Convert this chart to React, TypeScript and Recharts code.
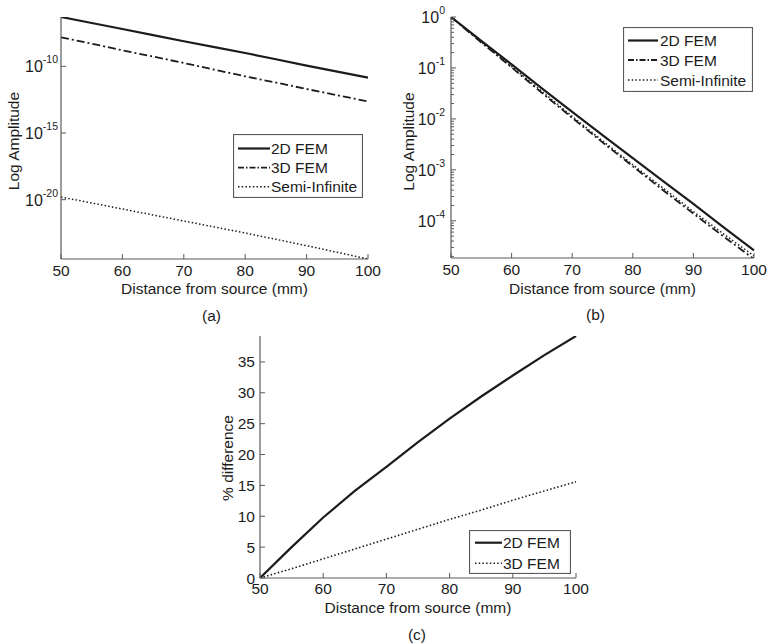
import React from 'react';
import { LineChart, Line, XAxis, YAxis, Legend } from 'recharts';

const FONT = '"Liberation Sans", Arial, Helvetica, sans-serif';
const INK = '#1c1c1c';
const AXIS = '#5a5a5a';

// distance from source (mm)
const distance = [50, 55, 60, 65, 70, 75, 80, 85, 90, 95, 100];
const distanceTicks = [50, 60, 70, 80, 90, 100];

// (a) amplitude, read as log10 exponents
const aFem2D = [-6.3, -6.75, -7.2, -7.66, -8.12, -8.56, -9.0, -9.47, -9.95, -10.4, -10.85];
const aFem3D = [-7.83, -8.3, -8.8, -9.27, -9.75, -10.25, -10.75, -11.22, -11.7, -12.17, -12.63];
const aSemi = [-19.8, -20.25, -20.7, -21.15, -21.6, -22.05, -22.5, -22.97, -23.45, -23.95, -24.45];
const aTicks = [1e-20, 1e-15, 1e-10];

// (b) amplitude, read as log10 exponents
const bFem2D = [0, -0.47, -0.93, -1.4, -1.86, -2.32, -2.77, -3.22, -3.67, -4.13, -4.58];
const bFem3D = [0, -0.5, -0.99, -1.49, -1.98, -2.46, -2.93, -3.4, -3.86, -4.31, -4.75];
const bSemi = [0, -0.49, -0.97, -1.46, -1.95, -2.43, -2.9, -3.36, -3.82, -4.26, -4.69];
const bMajor = [1e-4, 1e-3, 1e-2, 1e-1, 1];
const bMinorSteps = [2, 3, 4, 5, 6, 7, 8, 9];

// (c) % difference
const cFem2D = [0, 5.0, 9.8, 14.1, 18.0, 22.0, 25.8, 29.4, 32.8, 36.1, 39.2];
const cFem3D = [0, 1.5, 3.1, 4.7, 6.3, 7.9, 9.5, 11.0, 12.6, 14.1, 15.6];
const cTicks = [0, 5, 10, 15, 20, 25, 30, 35];

const rowsA = distance.map((d, i) => ({ d, fem2d: 10 ** aFem2D[i], fem3d: 10 ** aFem3D[i], semi: 10 ** aSemi[i] }));
const rowsB = distance.map((d, i) => ({ d, fem2d: 10 ** bFem2D[i], fem3d: 10 ** bFem3D[i], semi: 10 ** bSemi[i] }));
const rowsC = distance.map((d, i) => ({ d, fem2d: cFem2D[i], fem3d: cFem3D[i] }));

const bTicks = [
  ...bMajor,
  ...bMajor.slice(0, -1).flatMap((m) => bMinorSteps.map((s) => m * s)),
  ...bMinorSteps.map((s) => 1e-5 * s).filter((v) => v > 1.86e-5),
].sort((p, q) => p - q);

type Look = { name: string; dash?: string; legendDash?: string; width: number };

const SOLID: Look = { name: '2D FEM', width: 2.2 };
const DASHDOT: Look = { name: '3D FEM', dash: '8 3 2 3', legendDash: '6 2 1.5 2', width: 1.8 };
const DOTTED: Look = { name: 'Semi-Infinite', dash: '1.5 2.2', width: 1.5 };
const DOTTED3D: Look = { name: '3D FEM', dash: '1.5 2.2', width: 1.6 };

const seriesAB: [string, Look][] = [['fem2d', SOLID], ['fem3d', DASHDOT], ['semi', DOTTED]];
const seriesC: [string, Look][] = [['fem2d', SOLID], ['fem3d', DOTTED3D]];

function isMajor(v: number) {
  const e = Math.log10(v);
  return Math.abs(e - Math.round(e)) < 1e-6;
}

function LeftLogTick(props: any) {
  const { x, y, payload, gap = 4 } = props;
  const v = payload.value;
  const major = isMajor(v);
  const ax = x + 5;
  return (
    <g>
      <line x1={ax} x2={ax + (major ? 5 : 3)} y1={y} y2={y} stroke={AXIS} strokeWidth={1} />
      {major && (
        <text x={ax - gap} y={y} textAnchor="end" dominantBaseline="central" fontFamily={FONT} fontSize={16} fill={INK}>
          <tspan>10</tspan>
          <tspan dy={-7} fontSize={10.5}>{Math.round(Math.log10(v))}</tspan>
        </text>
      )}
    </g>
  );
}

function RightLogTick(props: any) {
  const { x, y, payload } = props;
  const major = isMajor(payload.value);
  return <line x1={x} x2={x - (major ? 5 : 3)} y1={y} y2={y} stroke={AXIS} strokeWidth={1} />;
}

function YTitle(props: any) {
  const { viewBox, text, cx } = props;
  const x = viewBox.x + cx;
  const y = viewBox.y + viewBox.height / 2 + (props.dy || 0);
  return (
    <text x={x} y={y} transform={`rotate(-90 ${x} ${y})`} textAnchor="middle" dominantBaseline="central"
      fontFamily={FONT} fontSize={15.5} fill={INK}>
      {text}
    </text>
  );
}

function XTitle(props: any) {
  const { viewBox, caption, capDx = 0, titleDy = 28 } = props;
  const cx = viewBox.x + viewBox.width / 2;
  return (
    <g fontFamily={FONT} fill={INK} textAnchor="middle">
      <text x={cx} y={viewBox.y + titleDy} dominantBaseline="central" fontSize={15.5}>Distance from source (mm)</text>
      <text x={cx + capDx} y={viewBox.y + 56} dominantBaseline="central" fontSize={15.5}>{caption}</text>
    </g>
  );
}

function BoxLegend({ items, width, height, rows, lineX, lineW, textX }: any) {
  return (
    <svg width={width} height={height} style={{ display: 'block' }}>
      <rect x={0.5} y={0.5} width={width - 1} height={height - 1} fill="#fff" stroke={AXIS} strokeWidth={1.2} />
      {items.map(([k, look]: [string, Look], i: number) => (
        <g key={k}>
          <line x1={lineX} x2={lineX + lineW} y1={rows[i]} y2={rows[i]} stroke={INK}
            strokeWidth={look.width} strokeDasharray={look.legendDash || look.dash} />
          <text x={textX} y={rows[i]} dominantBaseline="central" fontFamily={FONT} fontSize={15.5} fill={INK}>
            {look.name}
          </text>
        </g>
      ))}
    </svg>
  );
}

const axisLine = { stroke: AXIS, strokeWidth: 1.2 };
const xTick = { fill: INK, fontSize: 15.5, fontFamily: FONT };

function lines(items: [string, Look][]) {
  return items.map(([k, look]) => (
    <Line key={k} type="linear" dataKey={k} stroke={INK} strokeWidth={look.width}
      strokeDasharray={look.dash} dot={false} isAnimationActive={false} />
  ));
}

function frameX(xTickMargin: number, caption: string, capDx: number, titleDy: number) {
  return [
    <XAxis key="xb" dataKey="d" type="number" domain={[50, 100]} ticks={distanceTicks} interval={0}
      tickSize={-5} tickMargin={xTickMargin} axisLine={axisLine} tickLine={{ stroke: AXIS }} tick={xTick}
      height={50} label={<XTitle caption={caption} capDx={capDx} titleDy={titleDy} />} />,
    <XAxis key="xt" xAxisId="top" orientation="top" dataKey="d" type="number" domain={[50, 100]}
      ticks={distanceTicks} interval={0} tickSize={-5} height={0} axisLine={axisLine}
      tickLine={{ stroke: AXIS }} tickFormatter={() => ''} />,
  ];
}

function ChartA() {
  const domain = [3.55e-25, 5.0e-7];
  return (
    <LineChart width={390} height={330} data={rowsA} margin={{ top: 17, right: 22, bottom: 21, left: 0 }}>
      {frameX(11, '(a)', -3, 29)}
      <YAxis scale="log" type="number" domain={domain} allowDataOverflow ticks={aTicks} interval={0}
        width={61} tickSize={0} tickMargin={5} tickLine={false} axisLine={axisLine}
        tick={<LeftLogTick gap={3} />} label={<YTitle text="Log Amplitude" cx={13} dy={3} />} />
      <YAxis yAxisId="r" orientation="right" scale="log" type="number" domain={domain} allowDataOverflow
        ticks={aTicks} interval={0} width={0} tickSize={0} tickMargin={0} tickLine={false} axisLine={axisLine}
        tick={<RightLogTick />} />
      {lines(seriesAB)}
      <Legend layout="vertical" align="center" verticalAlign="middle"
        wrapperStyle={{ left: 233, top: 134, width: 130, height: 64 }}
        content={<BoxLegend items={seriesAB} width={130} height={64}
          rows={[14.5, 33.7, 52.7]} lineX={5} lineW={32} textX={38} />} />
    </LineChart>
  );
}

function ChartB() {
  const domain = [1.86e-5, 1];
  return (
    <LineChart width={391} height={330} data={rowsB} margin={{ top: 17, right: 27, bottom: 22, left: 0 }}>
      {frameX(11, '(b)', -7, 30)}
      <YAxis scale="log" type="number" domain={domain} allowDataOverflow ticks={bTicks} interval={0}
        width={61} tickSize={0} tickMargin={5} tickLine={false} axisLine={axisLine}
        tick={<LeftLogTick gap={6} />} label={<YTitle text="Log Amplitude" cx={18} dy={4} />} />
      <YAxis yAxisId="r" orientation="right" scale="log" type="number" domain={domain} allowDataOverflow
        ticks={bTicks} interval={0} width={0} tickSize={0} tickMargin={0} tickLine={false} axisLine={axisLine}
        tick={<RightLogTick />} />
      {lines(seriesAB)}
      <Legend layout="vertical" align="center" verticalAlign="middle"
        wrapperStyle={{ left: 233, top: 27, width: 130, height: 65 }}
        content={<BoxLegend items={seriesAB} width={130} height={65}
          rows={[13.5, 33, 53]} lineX={5} lineW={30} textX={37} />} />
    </LineChart>
  );
}

function ChartC() {
  return (
    <LineChart width={400} height={323} data={rowsC} margin={{ top: 16, right: 24, bottom: 15, left: 0 }}>
      {frameX(10, '(c)', -1, 29)}
      <YAxis type="number" domain={[0, 39.2]} allowDataOverflow ticks={cTicks} interval={0} width={60}
        tickSize={-5} tickMargin={10} axisLine={axisLine} tickLine={{ stroke: AXIS }} tick={xTick}
        label={<YTitle text="% difference" cx={27} dy={1} />} />
      <YAxis yAxisId="r" orientation="right" type="number" domain={[0, 39.2]} allowDataOverflow ticks={cTicks}
        interval={0} width={0} tickSize={-5} axisLine={axisLine} tickLine={{ stroke: AXIS }}
        tickFormatter={() => ''} />
      {lines(seriesC)}
      <Legend layout="vertical" align="center" verticalAlign="middle"
        wrapperStyle={{ left: 269, top: 210, width: 102, height: 44 }}
        content={<BoxLegend items={seriesC} width={102} height={44}
          rows={[12.7, 33.3]} lineX={6} lineW={27} textX={34} />} />
    </LineChart>
  );
}

export default function App() {
  return (
    <div style={{ position: 'absolute', left: 0, top: 0, width: 781, height: 643, background: '#fff', fontFamily: FONT }}>
      <div style={{ position: 'absolute', left: 0, top: 0 }}><ChartA /></div>
      <div style={{ position: 'absolute', left: 390, top: 0 }}><ChartB /></div>
      <div style={{ position: 'absolute', left: 200, top: 320 }}><ChartC /></div>
    </div>
  );
}
